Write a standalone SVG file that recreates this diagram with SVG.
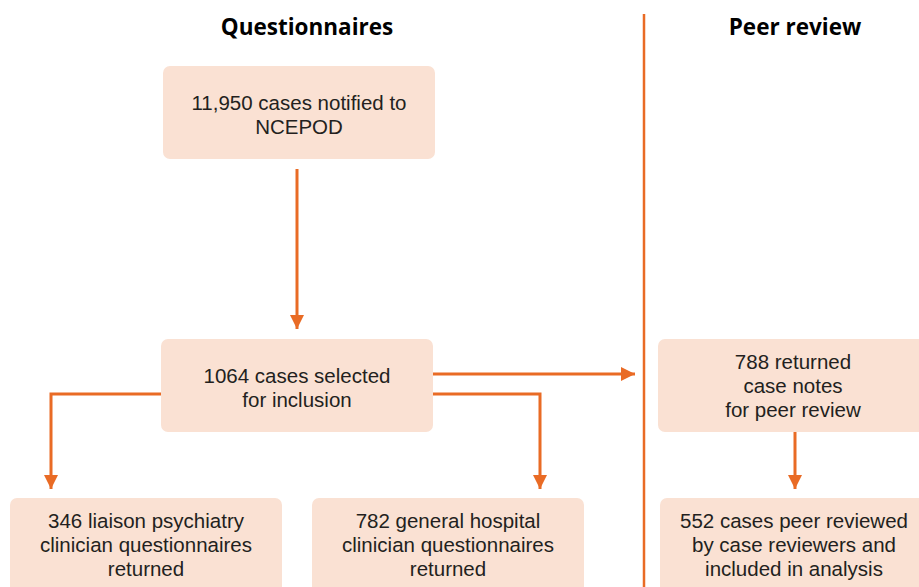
<svg xmlns="http://www.w3.org/2000/svg" width="919" height="587" viewBox="0 0 919 587">
<defs>
<style>
.box{fill:#FAE1D3;}
.t{font-family:"Liberation Sans",Arial,sans-serif;font-size:20.5px;fill:#231F20;text-anchor:middle;}
.h{font-family:"Open Sans","Liberation Sans",sans-serif;font-size:22.5px;font-weight:bold;fill:#000;text-anchor:middle;}
.c{stroke:#E96B25;stroke-width:3;fill:none;}
</style>
<marker id="ah" markerWidth="14" markerHeight="14" viewBox="0 0 14 14" refX="14" refY="7" orient="auto" markerUnits="userSpaceOnUse">
<path d="M0,0 L14,7 L0,14 Z" fill="#E96B25"/>
</marker>
</defs>
<rect width="919" height="587" fill="#fff"/>
<text class="h" x="307" y="35">Questionnaires</text>
<text class="h" x="795" y="35">Peer review</text>
<line x1="644" y1="14" x2="644" y2="587" stroke="#E96B25" stroke-width="2.5"/>
<g id="connectors">
<line class="c" x1="297" y1="169" x2="297" y2="329" marker-end="url(#ah)"/>
<line class="c" x1="433" y1="374" x2="635" y2="374" marker-end="url(#ah)"/>
<polyline class="c" points="161,394 51,394 51,489" marker-end="url(#ah)"/>
<polyline class="c" points="433,394 540,394 540,489" marker-end="url(#ah)"/>
<line class="c" x1="795" y1="432" x2="795" y2="489" marker-end="url(#ah)"/>
</g>
<g id="n1"><rect class="box" x="163" y="66" width="272" height="93" rx="7"/>
<text class="t" x="299" y="110">11,950 cases notified to</text><text class="t" x="299" y="134">NCEPOD</text></g>
<g id="n2"><rect class="box" x="161" y="339" width="272" height="93" rx="7"/>
<text class="t" x="297" y="383">1064 cases selected</text><text class="t" x="297" y="407">for inclusion</text></g>
<g id="n3"><rect class="box" x="10" y="498" width="272" height="100" rx="7"/>
<text class="t" x="146" y="528">346 liaison psychiatry</text><text class="t" x="146" y="552">clinician questionnaires</text><text class="t" x="146" y="576">returned</text></g>
<g id="n4"><rect class="box" x="312" y="498" width="272" height="100" rx="7"/>
<text class="t" x="448" y="528">782 general hospital</text><text class="t" x="448" y="552">clinician questionnaires</text><text class="t" x="448" y="576">returned</text></g>
<g id="n5"><rect class="box" x="658" y="339" width="280" height="93" rx="7"/>
<text class="t" x="793" y="369">788 returned</text><text class="t" x="793" y="393">case notes</text><text class="t" x="793" y="417">for peer review</text></g>
<g id="n6"><rect class="box" x="660" y="498" width="280" height="100" rx="7"/>
<text class="t" x="794" y="528">552 cases peer reviewed</text><text class="t" x="794" y="552">by case reviewers and</text><text class="t" x="794" y="576">included in analysis</text></g>
</svg>
